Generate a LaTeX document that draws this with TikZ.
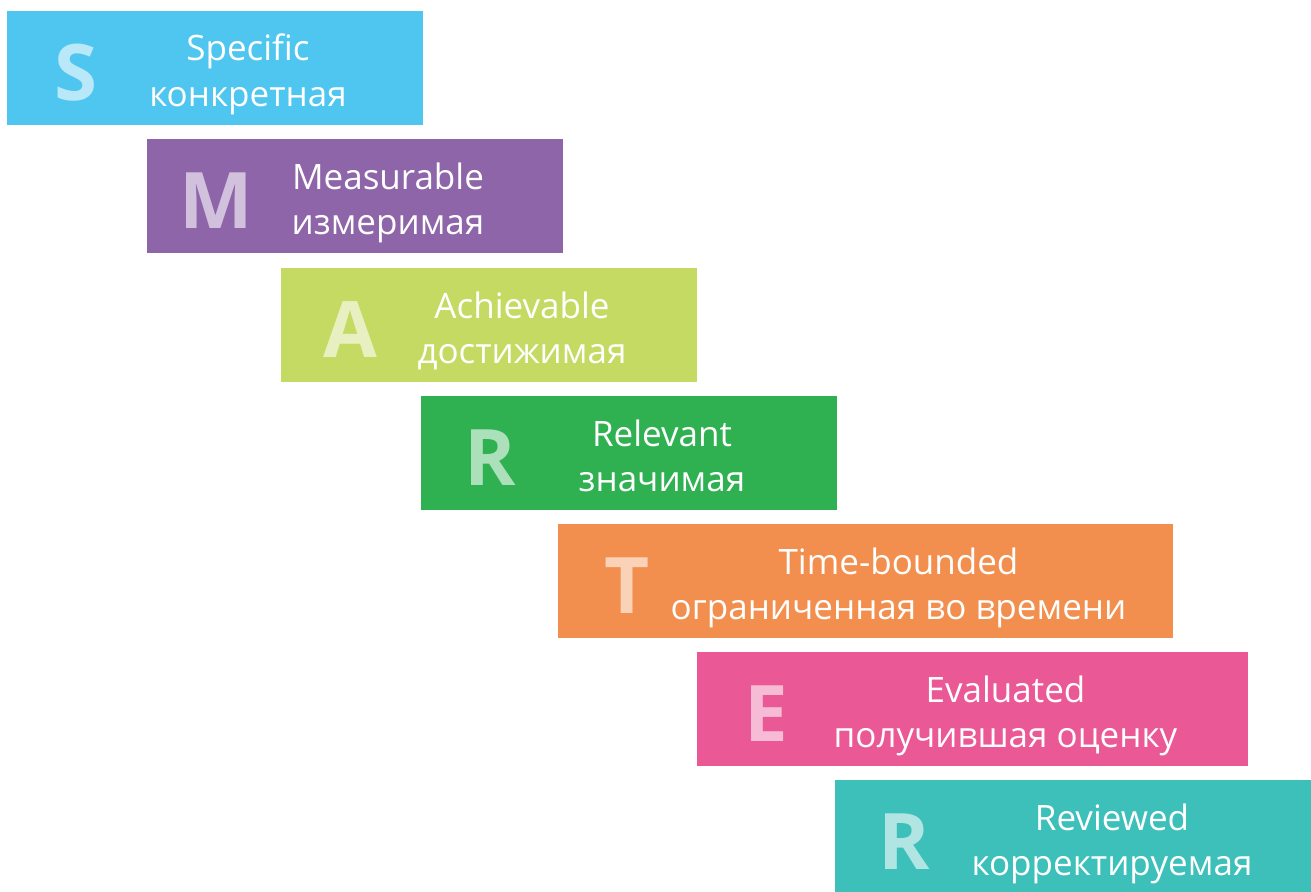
\documentclass[tikz,border=0pt]{standalone}
\usepackage{fontspec}
\setmainfont{Open Sans}

\definecolor{smartS}{HTML}{4FC6F0}
\definecolor{smartM}{HTML}{8E65A8}
\definecolor{smartA}{HTML}{C5DA63}
\definecolor{smartR}{HTML}{2FB152}
\definecolor{smartT}{HTML}{F38F4E}
\definecolor{smartE}{HTML}{EA5896}
\definecolor{smartRR}{HTML}{3DBFBA}

\begin{document}
\begin{tikzpicture}[x=1pt,y=-1pt]

    \tikzstyle{stepbox}=[inner sep=0pt, anchor=north west, minimum height=114pt]
    \tikzstyle{letter}=[anchor=base, inner sep=0pt, font=\fontsize{78}{78}\selectfont\bfseries]
    \tikzstyle{steptext}=[anchor=base, inner sep=0pt, text=white, font=\fontsize{35}{40}\selectfont]

    %\smartstep{name}{left}{top}{width}{colour}{letter}{english}{russian};
    \newcommand\smartstep[8]{
        \node[stepbox, fill=#5, minimum width=#4pt] (#1) at (#2,#3) {};
        \node[letter, text=#5!40!white] (#1_letter) at ({#2+69},{#3+89}) {#6};
        \node[steptext] (#1_en) at ({#2+(66+#4)/2},{#3+50}) {#7};
        \node[steptext] (#1_ru) at ({#2+(66+#4)/2},{#3+95}) {#8};
    }

    \path[use as bounding box, clip] (0,0) rectangle (1311,891);

    % the steps of the staircase
    \smartstep{specific}{7}{11}{416}{smartS}{S}{Specific}{конкретная};
    \smartstep{measurable}{147}{139}{416}{smartM}{M}{Measurable}{измеримая};
    \smartstep{achievable}{281}{268}{416}{smartA}{A}{Achievable}{достижимая};
    \smartstep{relevant}{421}{396}{416}{smartR}{R}{Relevant}{значимая};
    \smartstep{timebounded}{558}{524}{615}{smartT}{T}{Time-bounded}{ограниченная во времени};
    \smartstep{evaluated}{697}{652}{551}{smartE}{E}{Evaluated}{получившая оценку};
    \smartstep{reviewed}{835}{780}{488}{smartRR}{R}{Reviewed}{корректируемая};

\end{tikzpicture}
\end{document}
